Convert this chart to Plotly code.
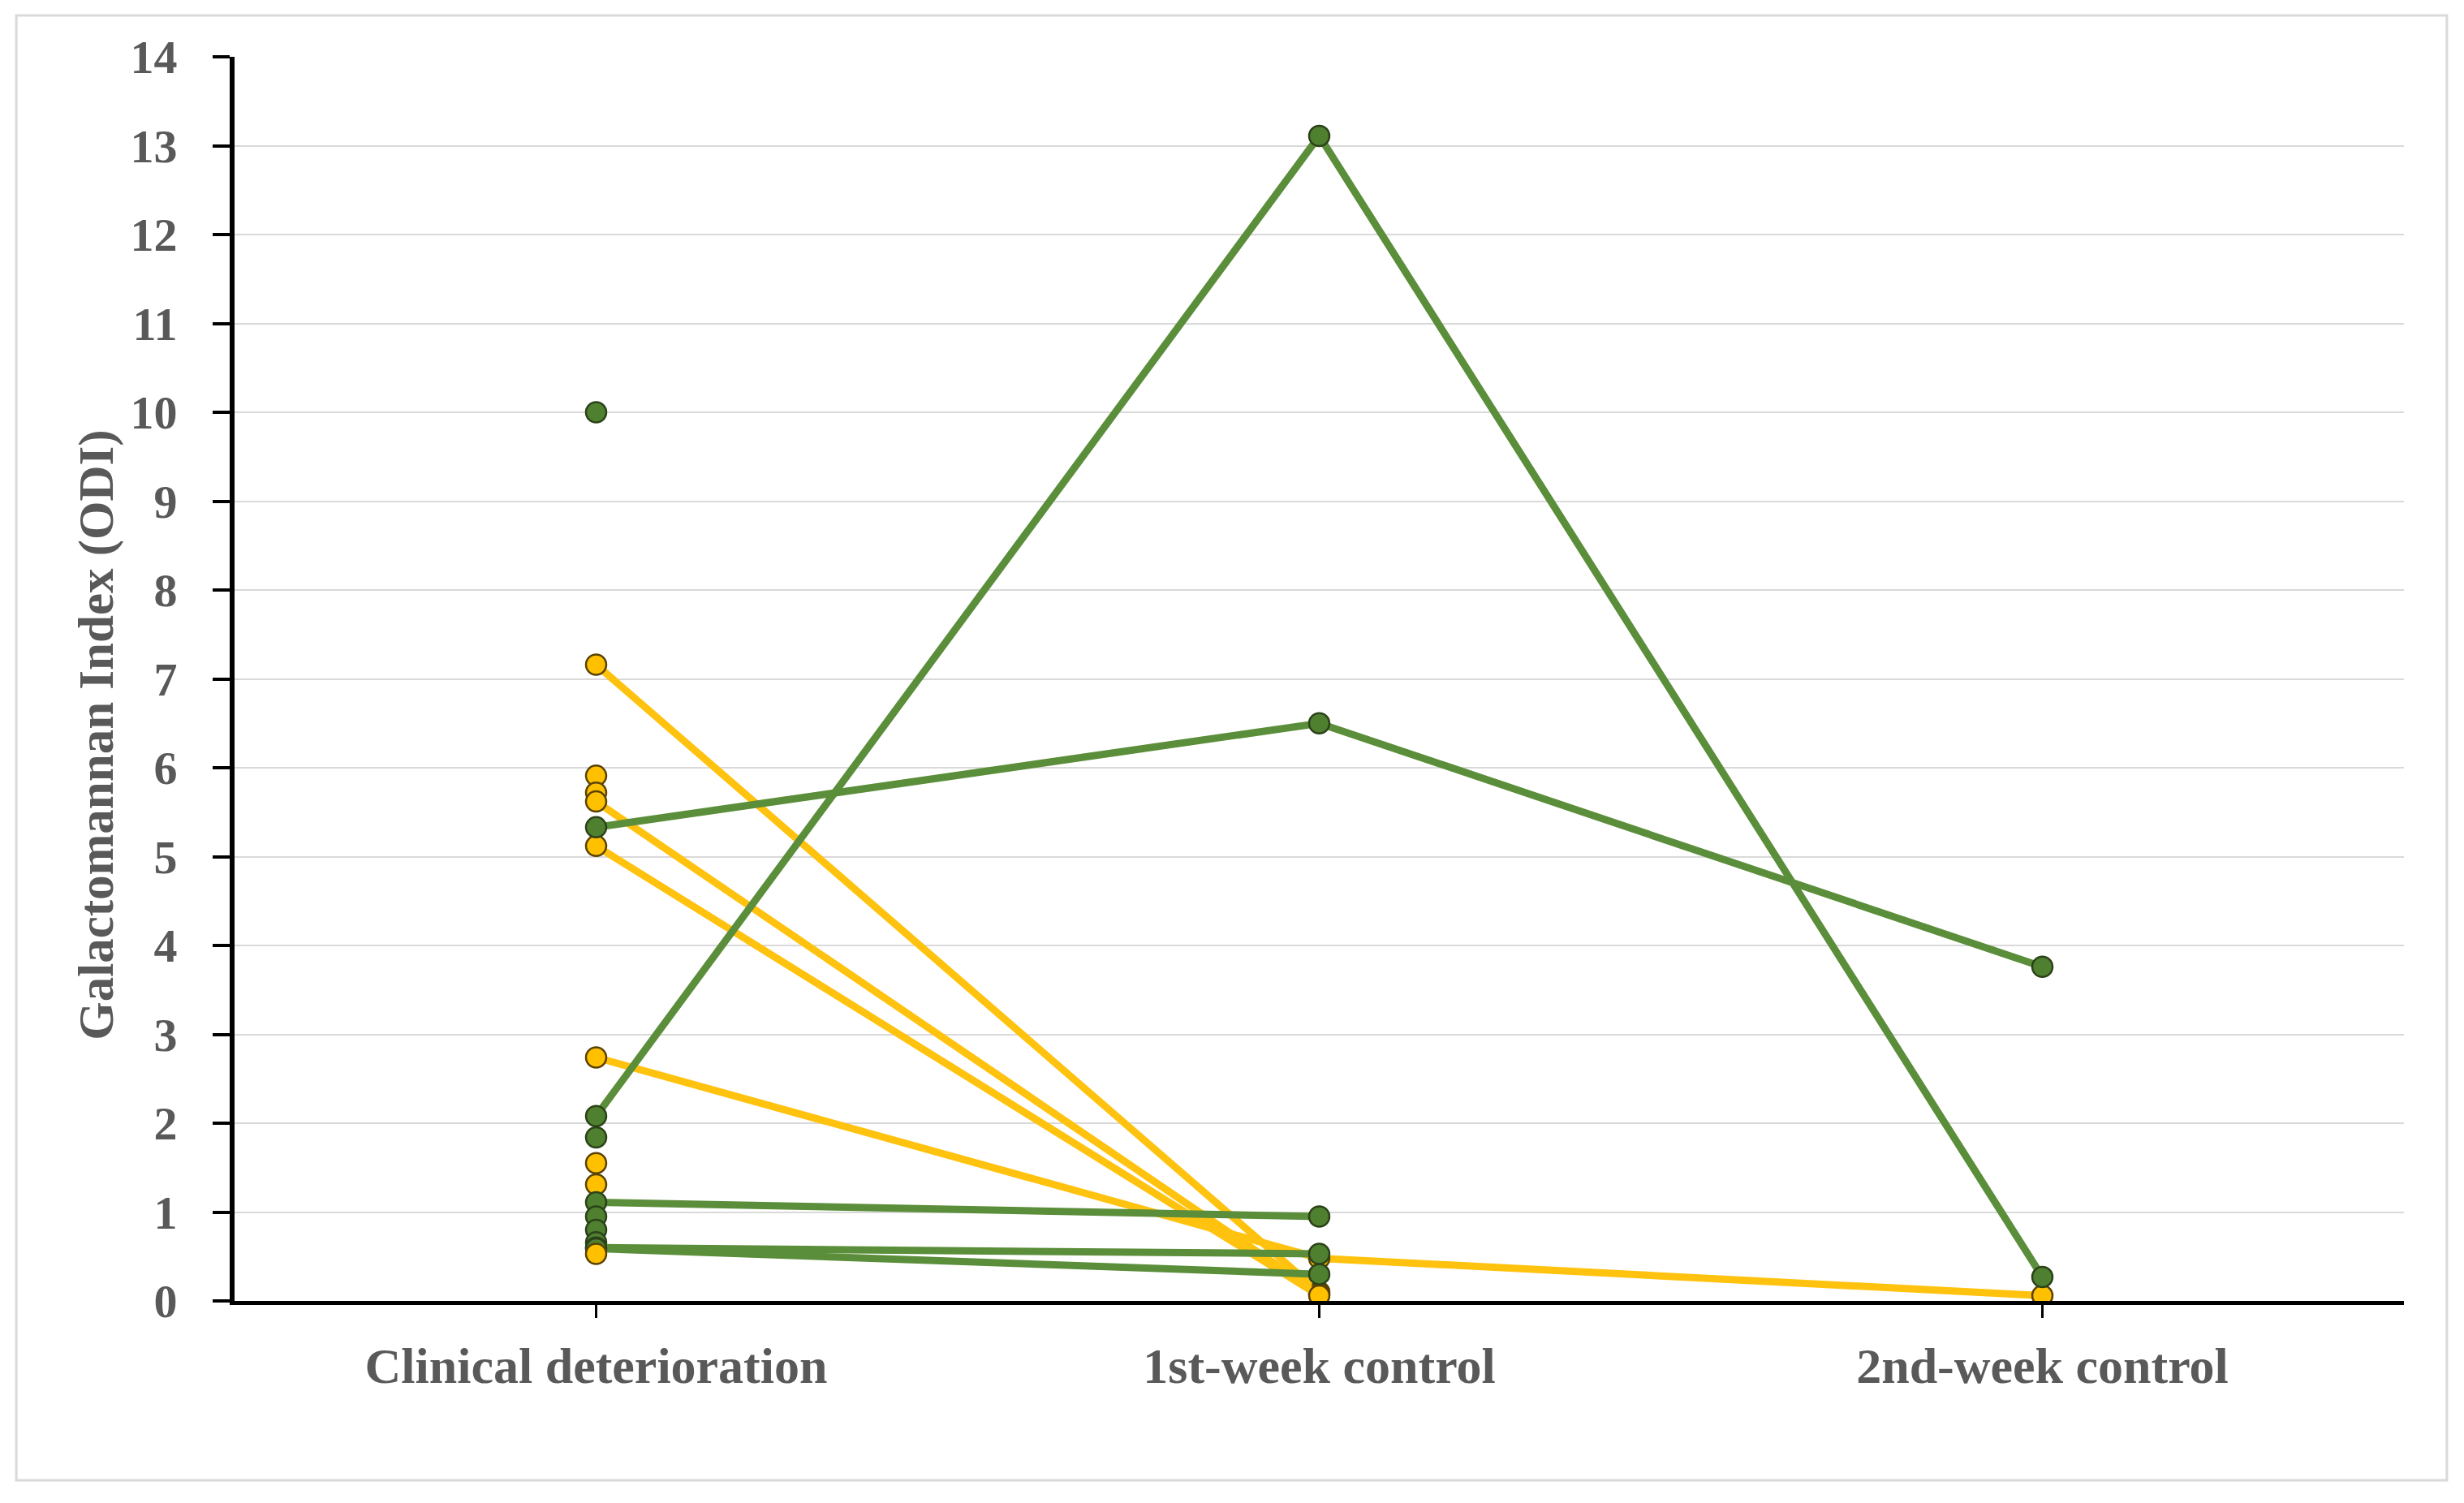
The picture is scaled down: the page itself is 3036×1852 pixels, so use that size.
import plotly.graph_objects as go

# ---- data ----
categories = ["Clinical deterioration", "1st-week control", "2nd-week control"]

yellow_patients = [
    [7.16, 0.10, None],
    [5.91, None, None],
    [5.72, None, None],
    [5.62, 0.08, None],
    [5.12, 0.06, None],
    [2.74, 0.48, 0.06],
    [1.55, None, None],
    [1.31, None, None],
]

green_patients = [
    [10.0, None, None],
    [5.33, 6.50, 3.76],
    [2.08, 13.11, 0.27],
    [1.84, None, None],
    [1.11, 0.95, None],
    [0.95, None, None],
    [0.80, None, None],
    [0.66, None, None],
    [0.60, 0.53, None],
    [0.59, 0.30, None],
]

yellow_last = [[0.53, None, None]]

y_ticks = list(range(0, 15))
y_title = "Galactomannan Index (ODI)"

# ---- style ----
YEL_LINE = "#FFC20E"
YEL_FILL = "#FFC000"
YEL_EDGE = "#5a4300"
GRN_LINE = "#5B8E3A"
GRN_FILL = "#4E8030"
GRN_EDGE = "#2B4219"
FONT = "Liberation Serif"
TXT = "#595959"

fig = go.Figure()

def add_patient(vals, line_c, fill_c, edge_c):
    fig.add_trace(go.Scatter(
        x=categories, y=vals, mode="lines+markers",
        line=dict(color=line_c, width=9),
        marker=dict(size=25, color=fill_c, line=dict(color=edge_c, width=2.5)),
        connectgaps=False, showlegend=False, hoverinfo="x+y",
    ))

for v in yellow_patients:
    add_patient(v, YEL_LINE, YEL_FILL, YEL_EDGE)
for v in green_patients:
    add_patient(v, GRN_LINE, GRN_FILL, GRN_EDGE)
for v in yellow_last:
    add_patient(v, YEL_LINE, YEL_FILL, YEL_EDGE)

fig.update_layout(
    width=3020, height=1836,
    margin=dict(l=281, r=66, t=62, b=241),
    paper_bgcolor="white", plot_bgcolor="white",
    font=dict(family=FONT, color=TXT),
    xaxis=dict(
        type="category", categoryorder="array", categoryarray=categories,
        range=[-0.5, 2.5], showgrid=False, zeroline=False,
        showline=True, linecolor="black", linewidth=5,
        ticks="outside", ticklen=16, tickwidth=3, tickcolor="black",
        tickfont=dict(family=FONT, size=62, color=TXT, weight="bold"),
        ticklabelstandoff=6,
    ),
    yaxis=dict(
        range=[0, 14], tickvals=y_ticks, ticktext=[str(t) for t in y_ticks],
        showgrid=True, gridcolor="#d9d9d9", gridwidth=2, zeroline=False,
        showline=True, linecolor="black", linewidth=6,
        ticks="outside", ticklen=21, tickwidth=4, tickcolor="black",
        tickfont=dict(family=FONT, size=58, color=TXT, weight="bold"),
        ticklabelstandoff=32,
    ),
    annotations=[dict(
        text=y_title, textangle=-90, xref="paper", yref="paper",
        x=-0.0635, y=0.455, xanchor="center", yanchor="middle",
        showarrow=False, font=dict(family=FONT, size=61, color=TXT, weight="bold"),
    )],
    shapes=[dict(
        type="rect", xref="paper", yref="paper",
        x0=-0.1006, x1=1.0198, y0=-0.1442, y1=1.0333,
        line=dict(color="#d9d9d9", width=3), fillcolor="rgba(0,0,0,0)", layer="below",
    )],
)

fig.write_html("out.html")
